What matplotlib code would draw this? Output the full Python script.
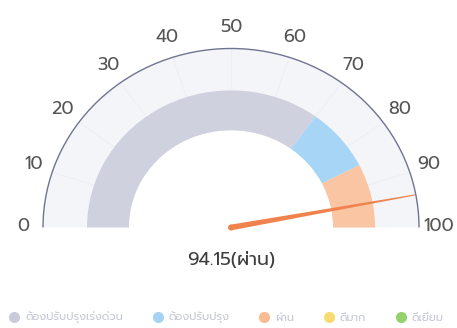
import numpy as np
import matplotlib
matplotlib.use("Agg")
import matplotlib.pyplot as plt
from matplotlib.patches import Wedge, Polygon, Ellipse, Arc
from matplotlib.lines import Line2D

# ---- data ----
tick_values = [0, 10, 20, 30, 40, 50, 60, 70, 80, 90, 100]
band_starts = [0, 70, 85]
band_ends = [70, 85, 100]
band_colors = ["#cfd1df", "#a6d5f6", "#f9c5a2"]
gauge_value = 94.15
status_text = "ผ่าน"
legend_labels = ["ต้องปรับปรุงเร่งด่วน", "ต้องปรับปรุง", "ผ่าน", "ดีมาก", "ดีเยี่ยม"]
legend_colors = ["#c9cbd9", "#a6d2f4", "#f8bb92", "#f9dc70", "#93d26c"]

FONT = ["Prompt", "Kanit", "Noto Sans Thai", "DejaVu Sans"]
plt.rcParams["font.family"] = FONT

W, H = 457, 328
fig = plt.figure(figsize=(W / 100, H / 100), dpi=100)
ax = fig.add_axes([0, 0, 1, 1])
# gauge units: centre at (0,0), outer radius 1
cx, cy = 231.0, 227.5
sx, sy = 188.0, 179.0
ax.set_xlim(-cx / sx, (W - cx) / sx)
ax.set_ylim(-(H - cy) / sy, cy / sy)
ax.set_aspect("auto")
ax.axis("off")


def ang(v):
    return 180.0 * (1 - v / 100.0)


r_out, r_w = 0.766, 0.223
# light background ring between band and outer arc
ax.add_patch(Wedge((0, 0), 1.0, 0, 180, width=1.0 - (r_out - r_w),
                   facecolor="#f4f5f9", edgecolor="none", zorder=1))
# faint radial grid lines
for v in tick_values[1:-1]:
    a = np.deg2rad(ang(v))
    ax.plot([r_out * np.cos(a), 1.0 * np.cos(a)], [r_out * np.sin(a), 1.0 * np.sin(a)],
            color="#eff0f5", lw=0.8, zorder=1.5)
# outer arc
ax.add_patch(Arc((0, 0), 2.0, 2.0, theta1=0, theta2=180, color="#6f7590", lw=1.0, zorder=3))

# bands
for s, e, c in zip(band_starts, band_ends, band_colors):
    ax.add_patch(Wedge((0, 0), r_out, ang(e), ang(s), width=r_w,
                       facecolor=c, edgecolor="none", zorder=2))

# tick labels
for v in tick_values:
    a = np.deg2rad(ang(v))
    ax.text(1.107 * np.cos(a), 1.107 * np.sin(a) + 0.008, str(v), ha="center", va="center",
            fontsize=13, color="#555555", family=FONT)

# needle (tapered)
a = np.deg2rad(ang(gauge_value))
L = 0.995
ux, uy = np.cos(a), np.sin(a)
px, py = -uy, ux
wb, wt = 0.016, 0.003
pts = [(px * wb, py * wb), (L * ux + px * wt, L * uy + py * wt),
       (L * ux - px * wt, L * uy - py * wt), (-px * wb, -py * wb)]
ax.add_patch(Polygon(pts, closed=True, facecolor="#f0834d", edgecolor="none", zorder=4))
ax.add_patch(Ellipse((0, 0), 2 * wb, 2 * wb * sx / sy, facecolor="#f0834d", edgecolor="none", zorder=4))

# centre label
ax.text(0, -(260 - cy) / sy, f"{gauge_value:.2f}({status_text})", ha="center", va="center",
        fontsize=13.5, color="#3d3d3d", family=FONT)

# legend
handles = [Line2D([], [], marker="o", linestyle="none", markersize=8,
                  markerfacecolor=c, markeredgecolor="none") for c in legend_colors]
leg = ax.legend(handles, legend_labels, loc="center", bbox_to_anchor=(0.495, 1 - 318 / H),
                ncol=5, frameon=False, fontsize=8, handletextpad=0.5, columnspacing=2.6,
                borderaxespad=0, handlelength=1.0)
for t in leg.get_texts():
    t.set_color("#c6c8d4")
    t.set_family(FONT)

fig.savefig("out.png", dpi=100, facecolor="white")
